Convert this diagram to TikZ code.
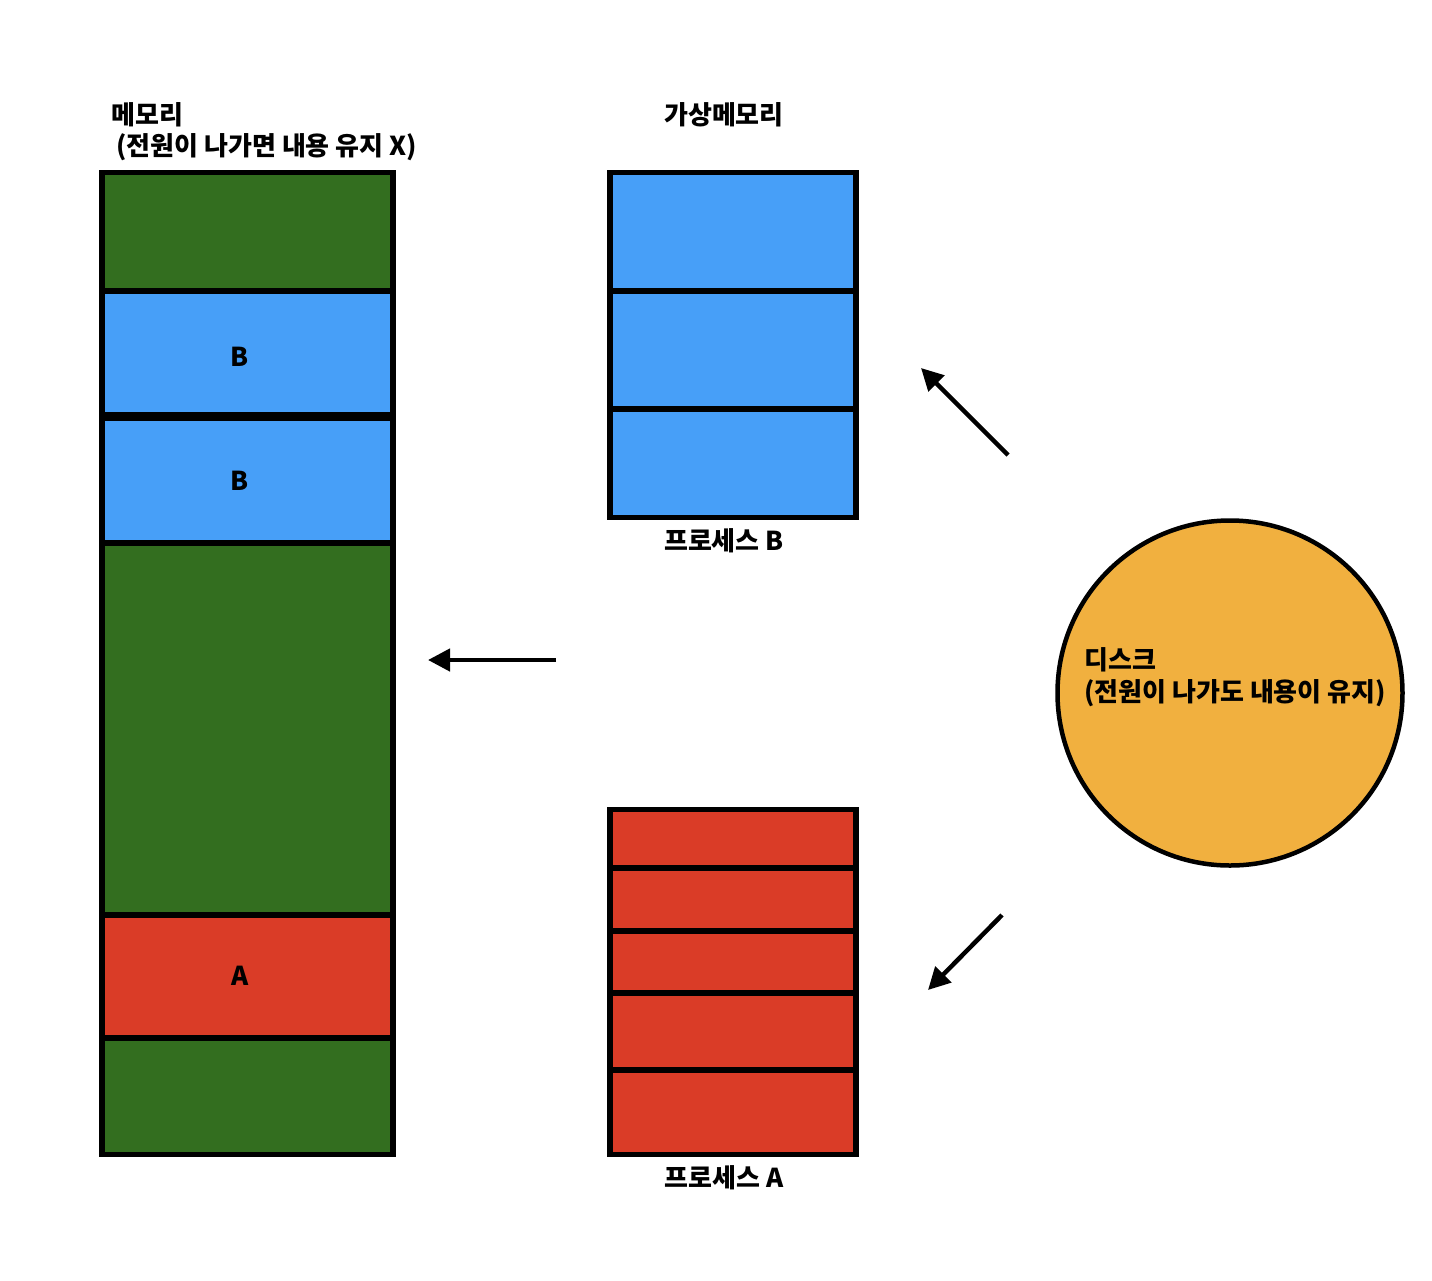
\documentclass[tikz,border=0pt]{standalone}
\usepackage{fontspec}
\usepackage{tikz}
\usetikzlibrary{arrows.meta,positioning,calc,shapes.geometric}
\newfontfamily\kr{Noto Sans CJK KR}
\definecolor{ink}{RGB}{0,0,0}
\definecolor{memG}{RGB}{51,110,31}
\definecolor{procB}{RGB}{71,159,248}
\definecolor{procA}{RGB}{218,60,39}
\definecolor{diskO}{RGB}{241,176,63}
\tikzset{
  blk/.style={draw=ink,line width=5.5pt,inner sep=0pt,outer sep=0pt},
  lbl/.style={inner sep=0pt,font=\kr\bfseries\fontsize{26}{32}\selectfont,align=left},
  arr/.style={-{Triangle[length=22pt,width=22pt]},line width=4.5pt,ink},
}
\begin{document}
\begin{tikzpicture}[x=1pt,y=-1pt]
\useasboundingbox (0,0) rectangle (1432,1280);
% physical memory
\foreach \t/\b/\c/\n in {172.5/291/memG/m1,291/414.5/procB/m2,418.5/543/procB/m3,
    543/915/memG/m4,915/1038/procA/m5,1038/1154.5/memG/m6}{
  \node[blk,fill=\c,minimum width=291pt,minimum height={(\b-\t)*1pt}] (\n) at (247.5,{(\t+\b)/2}) {};}
\node[lbl] (lB1) at (240,357) {B};
\node[lbl] (lB2) at (240,481) {B};
\node[lbl] (lA) at (240,976) {A};
\node[lbl,anchor=west] (memT) at (111,115) {메모리};
\node[lbl,anchor=west] (memS) at (116,147) {(전원이 나가면 내용 유지 X)};
% virtual memory, process B
\foreach \t/\b/\n in {172.5/291/b1,291/409/b2,409/517.5/b3}{
  \node[blk,fill=procB,minimum width=246pt,minimum height={(\b-\t)*1pt}] (\n) at (733,{(\t+\b)/2}) {};}
\node[lbl] (vmT) at (724,115) {가상메모리};
\node[lbl] (pbT) at (724,541) {프로세스 B};
% process A
\foreach \t/\b/\n in {809.5/868/a1,868/931/a2,931/993/a3,993/1070/a4,1070/1154.5/a5}{
  \node[blk,fill=procA,minimum width=246pt,minimum height={(\b-\t)*1pt}] (\n) at (733,{(\t+\b)/2}) {};}
\node[lbl] (paT) at (724,1178) {프로세스 A};
% disk
\node[blk,circle,fill=diskO,line width=4.5pt,minimum size=345pt] (disk) at (1230,693) {};
\node[lbl,anchor=west] (diskT) at (1084,660) {디스크};
\node[lbl,anchor=west] (diskS) at (1084,693) {(전원이 나가도 내용이 유지)};
% arrows
\coordinate (vIn) at (556,660);
\coordinate (mIn) at (428,660);
\coordinate (dUp) at (1008,455);
\coordinate (bIn) at (921,368);
\coordinate (dDn) at (1002,915);
\coordinate (aIn) at (928,990);
\draw[arr] (vIn) -- (mIn);
\draw[arr] (dUp) -- (bIn);
\draw[arr] (dDn) -- (aIn);
\end{tikzpicture}
\end{document}
